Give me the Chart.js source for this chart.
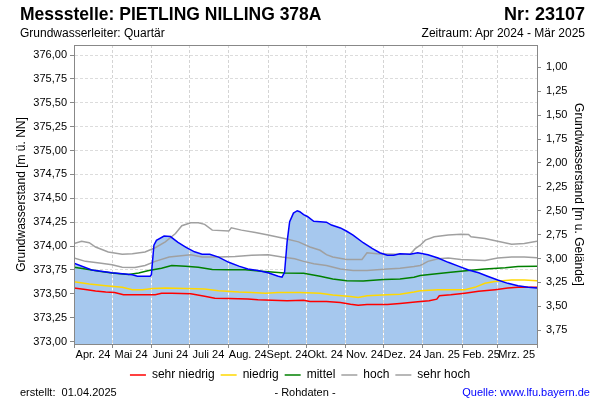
<!DOCTYPE html>
<html lang="de">
<head>
<meta charset="UTF-8">
<title>Messstelle PIETLING NILLING 378A</title>
<script src="https://cdn.jsdelivr.net/npm/chart.js"></script>
<style>
  body { margin: 0; background: #fff; }
  #wrap { position: relative; width: 600px; height: 400px; font-family: "Liberation Sans", Arial, sans-serif; color: #000; }
  #wrap canvas { position: absolute; left: 0; top: 0; }
  .txt { position: absolute; white-space: nowrap; }
</style>
</head>
<body>
<div id="wrap">
  <canvas id="chart" width="600" height="400"></canvas>
  <div class="txt" style="left:20px; top:4px; font-size:17.5px; line-height:20px; font-weight:bold;">Messstelle: PIETLING NILLING 378A</div>
  <div class="txt" style="right:15px; top:4px; font-size:18px; line-height:20px; font-weight:bold;">Nr: 23107</div>
  <div class="txt" style="left:20px; top:26px; font-size:12px; line-height:14px;">Grundwasserleiter: Quartär</div>
  <div class="txt" style="right:15px; top:26px; font-size:12px; line-height:14px;">Zeitraum: Apr 2024 - Mär 2025</div>
  <div class="txt" style="left:20px; top:385px; font-size:11px; line-height:14px;">erstellt:&nbsp; 01.04.2025</div>
  <div class="txt" style="left:305px; top:385px; font-size:11px; line-height:14px; transform:translateX(-50%);">- Rohdaten -</div>
  <div class="txt" style="right:10px; top:385px; font-size:11px; line-height:14px; color:#0000ff;">Quelle: www.lfu.bayern.de</div>
</div>
<script>
  // x = Tage ab 01.04.2024
  const monthStarts = [0, 30, 61, 91, 122, 153, 183, 214, 244, 275, 306, 334, 365];
  const monthLabels = ['Apr. 24', 'Mai 24', 'Juni 24', 'Juli 24', 'Aug. 24', 'Sept. 24', 'Okt. 24', 'Nov. 24', 'Dez. 24', 'Jan. 25', 'Feb. 25', 'Mrz. 25'];
  const levelTicks = [373.00, 373.25, 373.50, 373.75, 374.00, 374.25, 374.50, 374.75, 375.00, 375.25, 375.50, 375.75, 376.00];
  const depthTicks = [1.00, 1.25, 1.50, 1.75, 2.00, 2.25, 2.50, 2.75, 3.00, 3.25, 3.50, 3.75];
  const groundLevel = 376.87;

  // Messwerte
  const gwDays = [0, 14, 30, 46, 50, 60, 61, 63, 65, 71, 76, 82, 88, 95, 101, 107, 114, 122, 130, 137, 145, 153, 161, 164, 166, 168, 170, 173, 176, 178, 181, 184, 189, 199, 203, 210, 215, 220, 228, 235, 241, 247, 252, 257, 265, 271, 279, 287, 295, 303, 311, 319, 326, 334, 342, 350, 358, 365];
  const gwVals = [373.82, 373.75, 373.72, 373.70, 373.685, 373.685, 373.70, 374.01, 374.06, 374.105, 374.10, 374.04, 373.99, 373.94, 373.915, 373.915, 373.885, 373.83, 373.79, 373.76, 373.745, 373.72, 373.685, 373.675, 373.725, 374.045, 374.255, 374.345, 374.37, 374.36, 374.33, 374.31, 374.26, 374.25, 374.22, 374.19, 374.155, 374.115, 374.035, 373.975, 373.93, 373.905, 373.905, 373.92, 373.915, 373.93, 373.91, 373.875, 373.83, 373.79, 373.75, 373.72, 373.685, 373.645, 373.61, 373.585, 373.57, 373.56];

  // Klassengrenzen
  const sehrNiedrigDays = [0, 9, 17, 25, 32, 39, 51, 64, 69, 77, 92, 103, 111, 122, 137, 145, 156, 168, 181, 186, 199, 210, 218, 224, 231, 247, 257, 265, 271, 280, 286, 288, 297, 308, 319, 332, 342, 350, 365];
  const sehrNiedrigVals = [373.56, 373.545, 373.53, 373.52, 373.515, 373.49, 373.49, 373.49, 373.505, 373.505, 373.50, 373.475, 373.455, 373.452, 373.445, 373.437, 373.434, 373.427, 373.434, 373.42, 373.42, 373.41, 373.392, 373.381, 373.388, 373.388, 373.40, 373.41, 373.417, 373.427, 373.444, 373.48, 373.49, 373.507, 373.526, 373.544, 373.56, 373.568, 373.568];

  const niedrigDays = [0, 12, 25, 38, 46, 54, 62, 72, 88, 103, 114, 130, 140, 151, 161, 178, 194, 204, 218, 224, 231, 247, 257, 268, 273, 287, 308, 316, 324, 333, 345, 355, 365];
  const niedrigVals = [373.628, 373.603, 373.586, 373.568, 373.543, 373.543, 373.557, 373.56, 373.557, 373.55, 373.533, 373.52, 373.515, 373.507, 373.515, 373.515, 373.507, 373.487, 373.473, 373.462, 373.48, 373.49, 373.497, 373.52, 373.533, 373.543, 373.543, 373.568, 373.61, 373.631, 373.645, 373.645, 373.638];

  const mittelDays = [0, 9, 20, 30, 43, 51, 59, 69, 77, 88, 98, 109, 122, 135, 148, 166, 181, 194, 204, 215, 228, 244, 257, 268, 273, 284, 297, 311, 324, 340, 350, 365];
  const mittelVals = [373.779, 373.761, 373.737, 373.719, 373.702, 373.719, 373.744, 373.769, 373.797, 373.79, 373.779, 373.755, 373.751, 373.751, 373.737, 373.719, 373.716, 373.684, 373.656, 373.638, 373.635, 373.649, 373.656, 373.674, 373.692, 373.709, 373.727, 373.744, 373.761, 373.772, 373.787, 373.79];

  const hochDays = [0, 9, 20, 30, 38, 48, 56, 64, 75, 92, 101, 114, 127, 140, 153, 164, 174, 181, 189, 199, 210, 220, 231, 247, 257, 268, 273, 279, 287, 295, 305, 324, 334, 345, 355, 365];
  const hochVals = [373.875, 373.84, 373.822, 373.804, 373.779, 373.776, 373.797, 373.84, 373.885, 373.91, 373.885, 373.885, 373.892, 373.903, 373.91, 373.885, 373.867, 373.84, 373.815, 373.797, 373.761, 373.744, 373.744, 373.761, 373.769, 373.787, 373.797, 373.84, 373.867, 373.875, 373.86, 373.85, 373.875, 373.885, 373.885, 373.878];

  const sehrHochDays = [0, 6, 12, 17, 27, 38, 46, 56, 64, 72, 80, 85, 92, 98, 103, 109, 122, 124, 132, 143, 153, 166, 177, 186, 194, 199, 204, 215, 227, 231, 239, 254, 265, 269, 273, 277, 284, 295, 305, 311, 313, 324, 334, 345, 355, 365];
  const sehrHochVals = [374.026, 374.05, 374.036, 373.99, 373.938, 373.914, 373.92, 373.938, 373.983, 374.044, 374.132, 374.213, 374.245, 374.245, 374.227, 374.167, 374.157, 374.192, 374.167, 374.142, 374.115, 374.08, 374.044, 373.99, 373.956, 373.91, 373.885, 373.86, 373.86, 373.93, 373.92, 373.914, 373.914, 373.973, 374.009, 374.062, 374.097, 374.115, 374.125, 374.121, 374.097, 374.08, 374.051, 374.02, 374.026, 374.051];

  const yMin = 372.975;
  const yMax = 376.105;
  const fontFamily = '"Liberation Sans", Arial, sans-serif';
  const komma = v => v.toFixed(2).replace('.', ',');
  const pts = (days, vals) => days.map((d, i) => ({ x: d, y: vals[i] }));

  function lineSet(label, days, vals, color) {
    return {
      label: label,
      data: pts(days, vals),
      borderColor: color,
      backgroundColor: color,
      borderWidth: 1.5,
      pointRadius: 0,
      fill: false,
      xAxisID: 'x',
      yAxisID: 'y'
    };
  }

  // vertical grid redrawn over the fill, under the lines
  const gridOverFill = {
    id: 'gridOverFill',
    beforeDatasetsDraw(chart) {
      chart.scales.xw.drawGrid(chart.chartArea);
      chart.scales.x.drawGrid(chart.chartArea);
    }
  };

  Chart.defaults.font.family = fontFamily;
  Chart.defaults.color = '#000';

  new Chart(document.getElementById('chart'), {
    type: 'line',
    data: {
      datasets: [
        lineSet('sehr niedrig', sehrNiedrigDays, sehrNiedrigVals, '#ff0000'),
        lineSet('niedrig', niedrigDays, niedrigVals, '#ffd800'),
        lineSet('mittel', mittelDays, mittelVals, '#008000'),
        lineSet('hoch', hochDays, hochVals, '#a0a0a0'),
        lineSet('sehr hoch', sehrHochDays, sehrHochVals, '#a0a0a0'),
        {
          label: 'Grundwasserstand',
          data: pts(gwDays, gwVals),
          borderColor: '#0000ff',
          backgroundColor: '#a6c8ee',
          borderWidth: 1.5,
          pointRadius: 0,
          fill: 'start',
          order: -1,
          xAxisID: 'x',
          yAxisID: 'y'
        }
      ]
    },
    options: {
      responsive: false,
      animation: false,
      events: [],
      layout: { padding: { top: 45, bottom: 9, left: 0, right: 0 } },
      plugins: {
        filler: { drawTime: 'beforeDatasetsDraw' },
        tooltip: { enabled: false },
        legend: {
          position: 'bottom',
          labels: {
            filter: item => item.datasetIndex < 5,
            usePointStyle: true,
            pointStyle: 'line',
            pointStyleWidth: 16,
            padding: 6,
            color: '#000',
            font: { size: 12 }
          }
        }
      },
      scales: {
        x: {
          type: 'linear',
          position: 'bottom',
          min: 0,
          max: 365,
          afterBuildTicks: s => { s.ticks = monthStarts.map(v => ({ value: v })); },
          afterFit: s => { s.height = 19; },
          ticks: {
            autoSkip: false,
            maxRotation: 0,
            labelOffset: 19,
            padding: 0,
            font: { size: 11 },
            callback: (v, i) => monthLabels[i] || ''
          },
          grid: { color: '#d4d4d4', tickLength: 4, tickColor: '#888', tickBorderDash: [] },
          border: { color: '#888', dash: [3, 2], z: 1 }
        },
        xw: {
          type: 'linear',
          position: 'top',
          min: 0,
          max: 365,
          afterBuildTicks: s => { s.ticks = monthStarts.slice(1, -1).map(v => ({ value: v })); },
          afterFit: s => { s.height = 0; },
          ticks: { display: false },
          grid: { color: '#ffffff', drawTicks: false },
          border: { color: '#888', z: 1 }
        },
        y: {
          type: 'linear',
          position: 'left',
          min: yMin,
          max: yMax,
          afterBuildTicks: s => { s.ticks = levelTicks.map(v => ({ value: v })); },
          afterFit: s => { s.width = 74; },
          ticks: { padding: 3, font: { size: 11 }, callback: v => komma(v) },
          grid: { color: '#dcdcdc', tickLength: 4, tickColor: '#888', tickBorderDash: [] },
          border: { color: '#888', dash: [3, 2], z: 1 },
          title: { display: true, text: 'Grundwasserstand [m ü. NN]', font: { size: 12 }, padding: { top: 14, bottom: 0 } }
        },
        yr: {
          type: 'linear',
          position: 'right',
          reverse: true,
          min: groundLevel - yMax,
          max: groundLevel - yMin,
          afterBuildTicks: s => { s.ticks = depthTicks.map(v => ({ value: v })); },
          afterFit: s => { s.width = 63; },
          ticks: { padding: 5, font: { size: 11 }, callback: v => komma(v) },
          grid: { drawOnChartArea: false, tickLength: 4, tickColor: '#888' },
          border: { color: '#888', z: 1 },
          title: { display: true, text: 'Grundwasserstand [m u. Gelände]', font: { size: 12 }, padding: { top: 14, bottom: 0 } }
        }
      }
    },
    plugins: [gridOverFill]
  });
</script>
</body>
</html>
